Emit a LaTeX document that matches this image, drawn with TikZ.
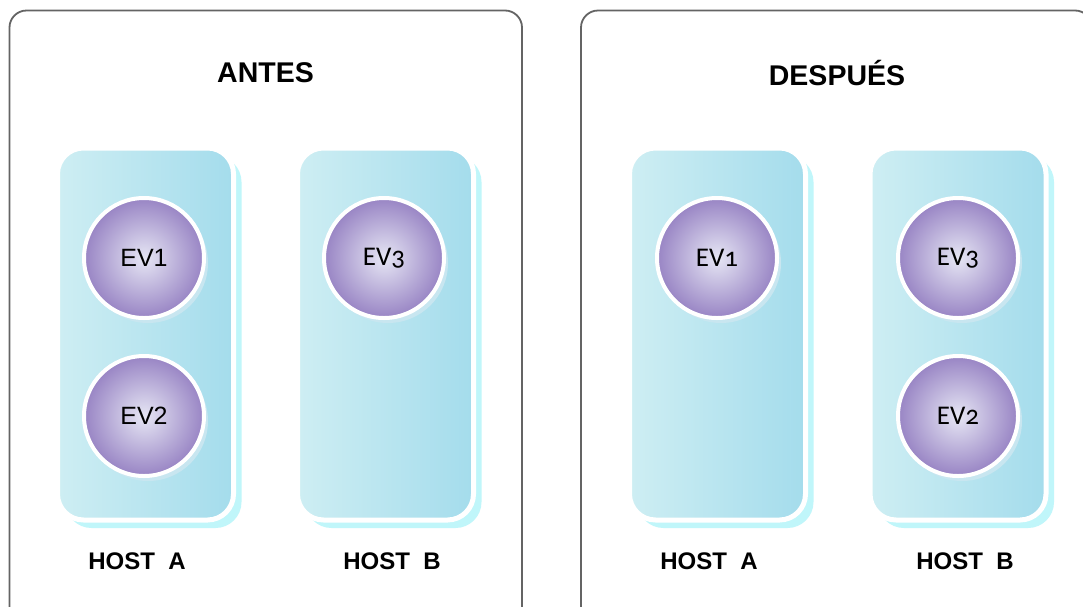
\documentclass[tikz,border=0pt]{standalone}
\usepackage{fontspec}
\setmainfont{Liberation Sans}
\newfontfamily\osf[Numbers=OldStyle]{Carlito}
\usetikzlibrary{shadows}
\definecolor{framegray}{RGB}{100,100,100}
\definecolor{ghostcyan}{RGB}{192,246,250}
\definecolor{hostlight}{RGB}{206,238,243}
\definecolor{hostmid}{RGB}{172,222,236}
\definecolor{hostdark}{RGB}{164,220,236}
\definecolor{vmin}{RGB}{230,230,244}
\definecolor{vmout}{RGB}{152,132,196}
\definecolor{vmshadow}{RGB}{200,230,240}
\tikzset{
  frame/.style={draw=framegray, line width=1.8pt, rounded corners=17pt},
  hostbox/.style={rectangle, rounded corners=26pt, minimum width=176pt, minimum height=372pt,
    inner sep=0pt, draw=white, line width=5pt,
    general shadow={fill=ghostcyan, shadow xshift=8pt, shadow yshift=-8pt},
    shading=axis, left color=hostlight, middle color=hostmid, right color=hostdark},
  vm/.style={circle, minimum size=120pt, inner sep=0pt, draw=white, line width=4pt,
    general shadow={fill=vmshadow, shadow xshift=4pt, shadow yshift=-5pt},
    inner color=vmin, outer color=vmout, font=\fontsize{25}{29}\selectfont},
  vmo/.style={vm, font=\fontsize{27}{31}\selectfont\osf},
  title/.style={font=\fontsize{28.5}{32}\selectfont\bfseries},
  hostlabel/.style={font=\fontsize{24}{28}\selectfont\bfseries}
}
\begin{document}
\begin{tikzpicture}[x=1pt,y=-1pt]
\useasboundingbox (0,0) rectangle (1083,606);
\fill[white] (0,0) rectangle (1083,606);
% outer frames
\draw[frame] (9.5,640) -- (9.5,10.5) -- (522,10.5) -- (522,640);
\draw[frame] (581,640) -- (581,10.5) -- (1092,10.5) -- (1092,640);
\node[title] (tAntes) at (265.5,73) {ANTES};
\node[title] (tDesp) at (837,73) {DESPUÉS};
% hosts
\node[hostbox] (hA1) at (145.5,334) {};
\node[hostbox] (hB1) at (385.5,334) {};
\node[hostbox] (hA2) at (717.5,334) {};
\node[hostbox] (hB2) at (958,334) {};
% VMs
\node[vm] (ev1) at (144,258) {EV1};
\node[vm] (ev2) at (144,416) {EV2};
\node[vmo] (ev3) at (384,258) {EV3};
\node[vmo] (ev1b) at (717,258) {EV1};
\node[vmo] (ev3b) at (958,258) {EV3};
\node[vmo] (ev2b) at (958,416) {EV2};
% labels
\node[hostlabel] (lA1) at (137,561) {HOST\ \ A};
\node[hostlabel] (lB1) at (392,561) {HOST\ \ B};
\node[hostlabel] (lA2) at (709,561) {HOST\ \ A};
\node[hostlabel] (lB2) at (965,561) {HOST\ \ B};
\end{tikzpicture}
\end{document}
